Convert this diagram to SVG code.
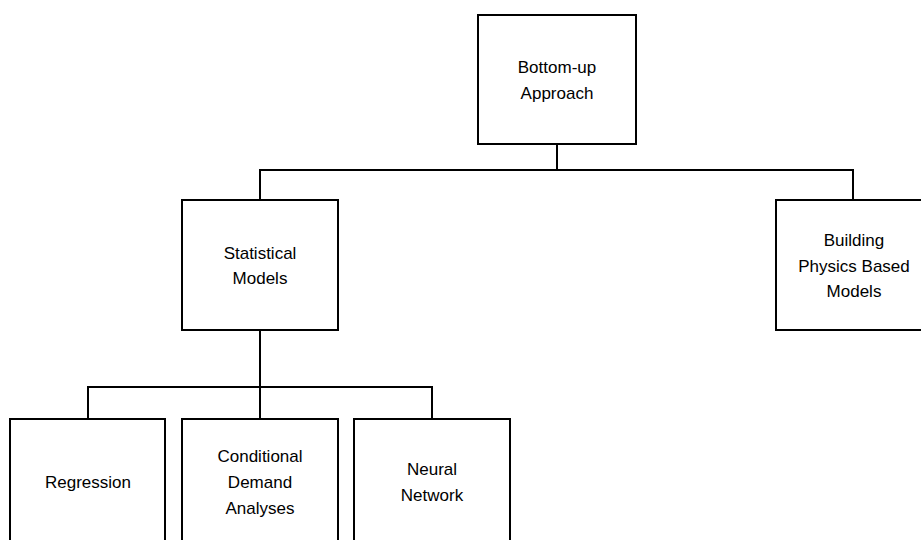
<svg xmlns="http://www.w3.org/2000/svg" width="921" height="540" viewBox="0 0 921 540">
  <style>
    .box { fill: #ffffff; stroke: #000000; stroke-width: 2; }
    .wire { fill: none; stroke: #000000; stroke-width: 2; }
    text { font-family: "Liberation Sans", Arial, sans-serif; font-size: 17px; fill: #000000; text-anchor: middle; }
  </style>
  <rect width="921" height="540" fill="#ffffff"/>

  <g id="connectors">
    <path class="wire" d="M557 144 V170"/>
    <path class="wire" d="M260 200 V170 H853 V200"/>
    <path class="wire" d="M260 330 V387"/>
    <path class="wire" d="M88 419 V387 H432 V419"/>
    <path class="wire" d="M260 387 V419"/>
  </g>

  <g id="node-bottom-up">
    <rect class="box" x="478" y="15" width="158" height="129"/>
    <text x="557" y="73">Bottom-up</text>
    <text x="557" y="99">Approach</text>
  </g>

  <g id="node-statistical">
    <rect class="box" x="182" y="200" width="156" height="130"/>
    <text x="260" y="259">Statistical</text>
    <text x="260" y="284">Models</text>
  </g>

  <g id="node-physics">
    <rect class="box" x="776" y="200" width="156" height="130"/>
    <text x="854" y="246">Building</text>
    <text x="854" y="272">Physics Based</text>
    <text x="854" y="297">Models</text>
  </g>

  <g id="node-regression">
    <rect class="box" x="10" y="419" width="155" height="140"/>
    <text x="88" y="488">Regression</text>
  </g>

  <g id="node-cda">
    <rect class="box" x="182" y="419" width="156" height="140"/>
    <text x="260" y="462">Conditional</text>
    <text x="260" y="488">Demand</text>
    <text x="260" y="514">Analyses</text>
  </g>

  <g id="node-neural">
    <rect class="box" x="354" y="419" width="156" height="140"/>
    <text x="432" y="475">Neural</text>
    <text x="432" y="501">Network</text>
  </g>
</svg>
